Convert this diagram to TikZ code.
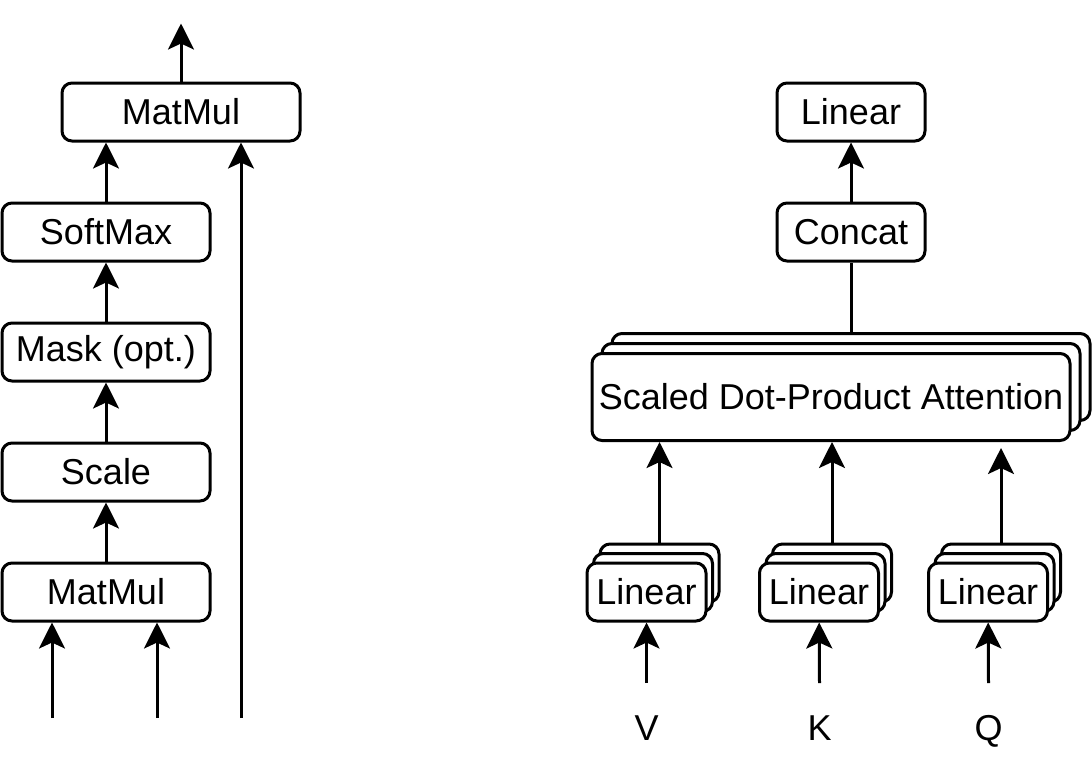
\documentclass[tikz,border=0pt]{standalone}
\usepackage{fontspec}
\setmainfont{Liberation Sans}
\usetikzlibrary{positioning, arrows.meta}

\begin{document}
\begin{tikzpicture}[
			x=1pt, y=1pt,
			box/.style={
				draw,
				rectangle,
				rounded corners=10pt,
				line width=3pt,
				fill=white,
				minimum width=208pt,
				minimum height=58pt,
				inner sep=0pt,
				align=center,
				font=\fontsize{36}{43}\selectfont
			},
			lin/.style={box, minimum width=119pt},
			wide/.style={box, minimum width=478pt, minimum height=87pt},
			arr/.style={-{Stealth[length=26pt, width=26pt, inset=6pt]}, line width=3pt},
			lbl/.style={font=\fontsize{36}{43}\selectfont, anchor=base, inner sep=0pt}
			]
			\useasboundingbox (0,0) rectangle (1092,-774);
			
			% Left: scaled dot-product attention
			\node[box] (matmul) at (106,-592) {MatMul};
			\node[box, above=59pt of matmul] (scale) {Scale};
			\node[box, above=59pt of scale] (mask) {Mask (opt.)};
			\node[box, above=59pt of mask] (softmax) {SoftMax};
			\node[box, minimum width=238pt, above=59pt of softmax, xshift=75pt] (matmul2) {MatMul};
			
			% Left inputs and output
			\coordinate (inq) at (52,-718);
			\coordinate (ink) at (157,-718);
			\coordinate (inv) at (241,-718);
			\coordinate[above=58pt of matmul2] (out);
			
			\draw[arr] (inq) -- (inq |- matmul.south);
			\draw[arr] (ink) -- (ink |- matmul.south);
			\draw[arr] (matmul) -- (scale);
			\draw[arr] (scale) -- (mask);
			\draw[arr] (mask) -- (softmax);
			\draw[arr] (softmax) -- (softmax |- matmul2.south);
			\draw[arr] (inv) -- (inv |- matmul2.south);
			\draw[arr] (matmul2) -- (out);
			
			% Right: multi-head attention
			\node[box, minimum width=148pt] (linear) at (851,-112) {Linear};
			\node[box, minimum width=148pt, below=59pt of linear] (concat) {Concat};
			
			% Stacked attention box
			\node[wide] (sdpa3) at (851,-377) {};
			\node[wide] (sdpa2) at ([shift={(-10pt,-10pt)}]sdpa3.center) {};
			\node[wide] (sdpa) at ([shift={(-10pt,-10pt)}]sdpa2.center) {Scaled Dot-Product Attention};
			
			% Stacked linear boxes
			\node[lin] (linv3) at (659.5,-573) {};
			\node[lin] (linv2) at ([shift={(-6.5pt,-9.5pt)}]linv3.center) {};
			\node[lin] (linv) at ([shift={(-6.5pt,-9.5pt)}]linv2.center) {Linear};
			
			\node[lin] (link3) at (832,-573) {};
			\node[lin] (link2) at ([shift={(-6.5pt,-9.5pt)}]link3.center) {};
			\node[lin] (link) at ([shift={(-6.5pt,-9.5pt)}]link2.center) {Linear};
			
			\node[lin] (linq3) at (1001,-573) {};
			\node[lin] (linq2) at ([shift={(-6.5pt,-9.5pt)}]linq3.center) {};
			\node[lin] (linq) at ([shift={(-6.5pt,-9.5pt)}]linq2.center) {Linear};
			
			% Inputs
			\node[lbl] (v) at (646.5,-740) {V};
			\node[lbl] (k) at (819.5,-740) {K};
			\node[lbl] (q) at (988.5,-740) {Q};
			\coordinate (srcv) at (646.5,-683);
			\coordinate (srck) at (819.5,-683);
			\coordinate (srcq) at (988.5,-683);
			
			\draw[arr] (srcv) -- (linv);
			\draw[arr] (srck) -- (link);
			\draw[arr] (srcq) -- (linq);
			\draw[arr] (linv3) -- (linv3 |- sdpa.south);
			\draw[arr] (link3) -- (link3 |- sdpa.south);
			\draw[arr, shorten >=6pt] (linq3) -- (linq3 |- sdpa.south);
			\draw[-, line width=3pt] (sdpa3) -- (concat);
			\draw[arr] (concat) -- (linear);
			
		\end{tikzpicture}
\end{document}
